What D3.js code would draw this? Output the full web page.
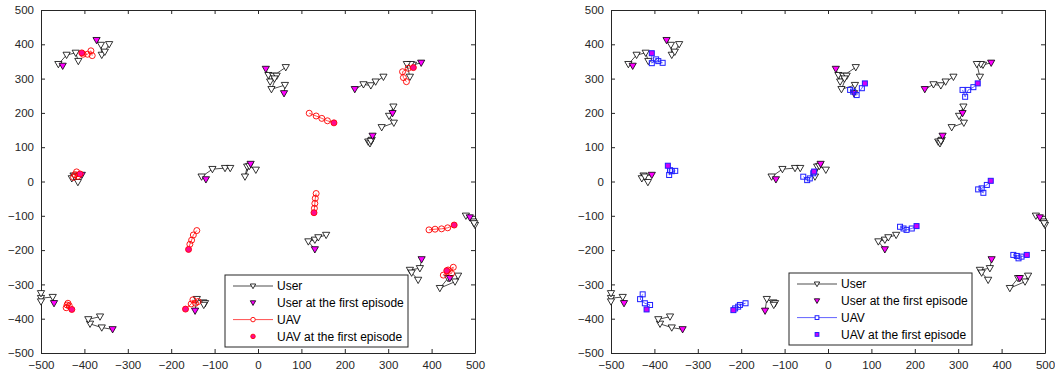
<!DOCTYPE html>
<html>
<head>
<meta charset="utf-8">
<script src="https://cdn.jsdelivr.net/npm/d3@7"></script>
<style>
  body { margin: 0; background: #fff; }
  svg { font-family: "Liberation Sans", Arial, sans-serif; }
</style>
</head>
<body>
<svg id="chart" width="1055" height="377"></svg>
<script>
// user trajectories (first point = first episode), shared by both panels
const userTracks = [
  [[-450, 337], [-460, 342], [-441, 369], [-420, 375], [-414, 351]],
  [[-372, 412], [-362, 398], [-360, 369], [-353, 378], [-343, 400]],
  [[18, 328], [24, 310], [28, 291], [35, 308], [64, 333]],
  [[60, 257], [62, 281], [31, 269], [43, 308], [38, 300]],
  [[223, 269], [243, 283], [260, 280], [271, 291], [289, 305]],
  [[376, 346], [357, 340], [352, 342], [343, 342], [350, 305]],
  [[310, 199], [312, 218], [302, 191], [313, 171], [285, 158]],
  [[264, 133], [262, 121], [254, 116], [258, 111], [260, 118]],
  [[-406, 19], [-425, 17], [-429, 9], [-422, 14], [-415, -2]],
  [[-120, 6], [-130, 14], [-105, 36], [-76, 39], [-64, 39]],
  [[-17, 51], [-25, 43], [-30, 14], [-20, 45], [-5, 34]],
  [[131, -198], [116, -175], [131, -170], [139, -163], [157, -156]],
  [[488, -105], [479, -100], [496, -117], [500, -127], [498, -122]],
  [[377, -227], [373, -253], [350, -258], [354, -266], [369, -287]],
  [[442, -282], [438, -282], [419, -311], [454, -292], [461, -275]],
  [[-470, -355], [-473, -337], [-500, -340], [-500, -326], [-500, -350]],
  [[-335, -431], [-360, -426], [-387, -415], [-391, -402], [-364, -394]],
  [[-145, -377], [-141, -343], [-126, -353], [-122, -355], [-125, -360]]
];

// UAV trajectories, left panel
const uavTracksA = [
  [[-406, 375], [-403, 371], [-393, 371], [-385, 381], [-382, 367]],
  [[-410, 22], [-418, 28], [-422, 20], [-415, 15], [-425, 12]],
  [[-429, -373], [-442, -368], [-438, -355], [-435, -362], [-440, -360]],
  [[-160, -198], [-157, -183], [-153, -171], [-149, -156], [-141, -143]],
  [[-167, -372], [-154, -357], [-150, -345], [-144, -355], [-138, -350]],
  [[175, 171], [160, 177], [147, 184], [134, 191], [118, 199]],
  [[129, -91], [130, -78], [131, -64], [132, -49], [134, -35]],
  [[358, 332], [346, 330], [333, 320], [335, 303], [342, 291]],
  [[452, -127], [437, -135], [423, -138], [408, -139], [394, -141]],
  [[435, -260], [427, -273], [446, -268], [450, -250], [438, -258]]
];

// UAV trajectories, right panel
const uavTracksB = [
  [[-406, 374], [-406, 345], [-396, 356], [-391, 351], [-381, 346]],
  [[-369, 46], [-364, 33], [-366, 19], [-352, 31], [-360, 30]],
  [[-418, -373], [-410, -360], [-422, -355], [-433, -343], [-427, -329]],
  [[-218, -375], [-214, -370], [-207, -365], [-203, -360], [-190, -355]],
  [[-32, 29], [-34, 24], [-42, 9], [-48, 4], [-57, 14]],
  [[85, 286], [78, 272], [66, 252], [58, 262], [51, 267]],
  [[345, 286], [335, 275], [323, 267], [316, 247], [310, 267]],
  [[375, 2], [366, -10], [354, -20], [358, -33], [346, -23]],
  [[204, -130], [193, -137], [181, -141], [174, -137], [166, -132]],
  [[458, -214], [446, -219], [439, -224], [427, -214], [435, -217]]
];

const xTicks = [-500, -400, -300, -200, -100, 0, 100, 200, 300, 400, 500];
const yTicks = [-500, -400, -300, -200, -100, 0, 100, 200, 300, 400, 500];
const legendLabels = ['User', 'User at the first episode', 'UAV', 'UAV at the first episode'];

const svg = d3.select('#chart');
const axisColor = '#262626';
const magenta = '#ff00ff';

const panels = [
  { left: 41, uav: uavTracksA, kind: 'circle', color: '#ff0000', firstFill: '#ff0a8c',
    legend: { x: 225, y: 275, w: 183, h: 72 } },
  { left: 611, uav: uavTracksB, kind: 'square', color: '#1f1fff', firstFill: '#d000f8',
    legend: { x: 789, y: 273, w: 183, h: 72 } }
];

function drawMarker(g, kind, x, y, stroke, fill, s = 1) {
  if (kind === 'tri') {
    g.append('path').attr('d', `M${-3.6 * s},${-2.7 * s}L${3.6 * s},${-2.7 * s}L0,${3.6 * s}Z`)
      .attr('transform', `translate(${x},${y})`)
      .attr('fill', fill).attr('stroke', stroke).attr('stroke-width', 0.8);
  } else if (kind === 'circle') {
    g.append('circle').attr('cx', x).attr('cy', y).attr('r', 3 * s)
      .attr('fill', fill).attr('stroke', stroke).attr('stroke-width', 0.9);
  } else {
    g.append('rect').attr('x', x - 2.5 * s).attr('y', y - 2.5 * s)
      .attr('width', 5 * s).attr('height', 5 * s)
      .attr('fill', fill).attr('stroke', stroke).attr('stroke-width', 1);
  }
}

panels.forEach(p => {
  const x = d3.scaleLinear().domain([-500, 500]).range([p.left, p.left + 434]);
  const y = d3.scaleLinear().domain([-500, 500]).range([353, 10]);
  const g = svg.append('g');

  // axes, box style with ticks inside
  g.append('g').attr('transform', 'translate(0,353)')
    .call(d3.axisBottom(x).tickValues(xTicks).tickSize(-4).tickPadding(8).tickSizeOuter(0))
    .call(a => a.selectAll('text').attr('font-size', 11.5).attr('fill', axisColor));
  g.append('g').attr('transform', `translate(${p.left},0)`)
    .call(d3.axisLeft(y).tickValues(yTicks).tickSize(-4).tickPadding(7).tickSizeOuter(0))
    .call(a => a.selectAll('text').attr('font-size', 11.5).attr('fill', axisColor));
  g.append('g').attr('transform', 'translate(0,10)')
    .call(d3.axisTop(x).tickValues(xTicks).tickSize(-4).tickFormat('').tickSizeOuter(0));
  g.append('g').attr('transform', `translate(${p.left + 434},0)`)
    .call(d3.axisRight(y).tickValues(yTicks).tickSize(-4).tickFormat('').tickSizeOuter(0));
  g.selectAll('.domain, .tick line').attr('stroke', axisColor);

  const line = d3.line().x(d => x(d[0])).y(d => y(d[1]));

  // users
  userTracks.forEach(t => {
    g.append('path').attr('d', line(t)).attr('fill', 'none')
      .attr('stroke', '#000').attr('stroke-width', 0.7);
    t.slice(1).forEach(d => drawMarker(g, 'tri', x(d[0]), y(d[1]), '#000', '#fff'));
  });
  userTracks.forEach(t => drawMarker(g, 'tri', x(t[0][0]), y(t[0][1]), '#000', magenta));

  // UAVs
  p.uav.forEach(t => {
    g.append('path').attr('d', line(t)).attr('fill', 'none')
      .attr('stroke', p.color).attr('stroke-width', 0.7);
    t.slice(1).forEach(d => drawMarker(g, p.kind, x(d[0]), y(d[1]), p.color, 'none'));
    drawMarker(g, p.kind, x(t[0][0]), y(t[0][1]), p.color, p.firstFill);
  });

  // legend
  const L = p.legend;
  const lg = g.append('g');
  lg.append('rect').attr('x', L.x).attr('y', L.y).attr('width', L.w).attr('height', L.h)
    .attr('fill', '#fff').attr('stroke', axisColor).attr('stroke-width', 1);
  legendLabels.forEach((lab, i) => {
    const cy = L.y + 11 + i * 16.8;
    const mx = L.x + 28;
    if (i === 0) {
      lg.append('line').attr('x1', L.x + 8).attr('x2', L.x + 48).attr('y1', cy).attr('y2', cy)
        .attr('stroke', '#000').attr('stroke-width', 0.7);
      drawMarker(lg, 'tri', mx, cy, '#000', '#fff', 0.75);
    } else if (i === 1) {
      drawMarker(lg, 'tri', mx, cy, '#000', magenta, 0.75);
    } else if (i === 2) {
      lg.append('line').attr('x1', L.x + 8).attr('x2', L.x + 48).attr('y1', cy).attr('y2', cy)
        .attr('stroke', p.color).attr('stroke-width', 0.7);
      drawMarker(lg, p.kind, mx, cy, p.color, '#fff', 0.75);
    } else {
      drawMarker(lg, p.kind, mx, cy, p.color, p.firstFill, 0.75);
    }
    lg.append('text').attr('x', L.x + 52).attr('y', cy).attr('dy', '0.35em')
      .attr('font-size', 12).attr('fill', '#000').text(lab);
  });
});
</script>
</body>
</html>
